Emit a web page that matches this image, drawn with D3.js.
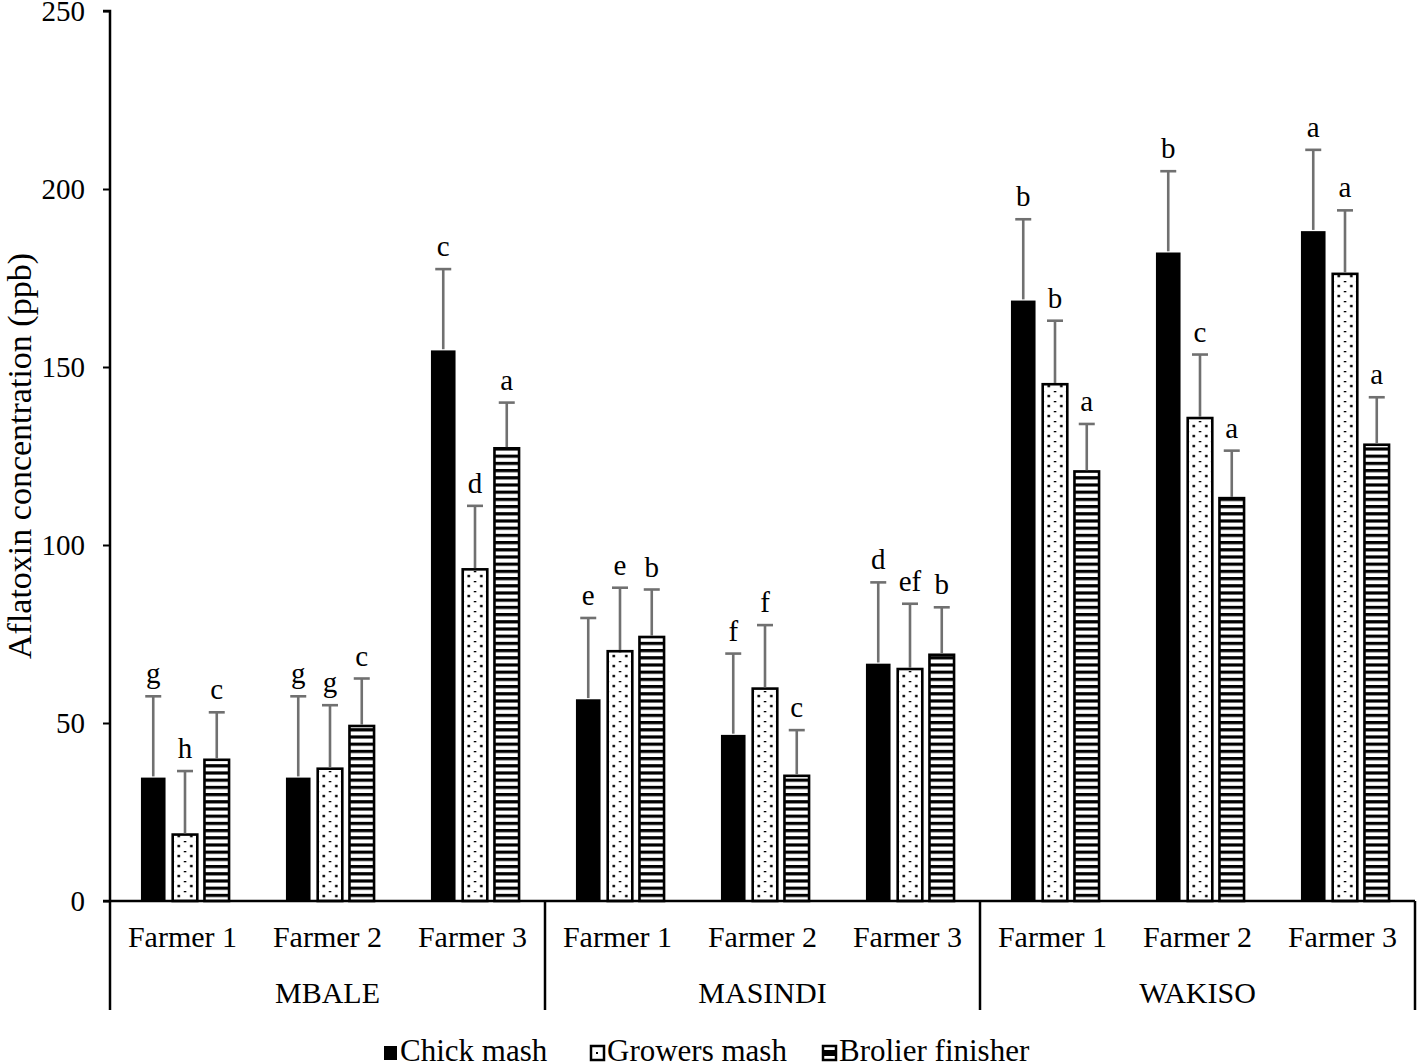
<!DOCTYPE html>
<html><head><meta charset="utf-8">
<script src="https://cdn.jsdelivr.net/npm/d3@7"></script>
<style>body{margin:0;background:#fff}svg{display:block}text{font-family:"Liberation Serif","Times New Roman",serif;fill:#000}</style>
</head><body><svg id="c" width="1419" height="1064"></svg>
<script>
const regions = ["MBALE","MASINDI","WAKISO"];
const farmers = ["Farmer 1","Farmer 2","Farmer 3"];
const series = ["Chick mash","Growers mash","Brolier finisher"];
const chickMash = [35,35,155,57,47,67,169,182.5,188.5];
const chickErr  = [57.5,57.5,177.5,79.5,69.5,89.5,191.5,205,211];
const chickLbl  = ["g","g","c","e","f","d","b","b","a"];
const growersMash = [19,37.5,93.5,70.5,60,65.5,145.5,136,176.5];
const growersErr  = [36.5,55,111,88,77.5,83.5,163,153.5,194];
const growersLbl  = ["h","g","d","e","f","ef","b","c","a"];
const broiler = [40,49.5,127.5,74.5,35.5,69.5,121,113.5,128.5];
const broilerErr = [53,62.5,140,87.5,48,82.5,134,126.5,141.5];
const broilerLbl = ["c","c","a","b","c","b","a","a","a"];
const yTicks = [0,50,100,150,200,250];

const svg = d3.select("#c");
const x0 = 110, x1 = 1415, yTop = 11, yBot = 901, shift = 2.5;
const cats = d3.range(9);
const xBand = d3.scaleBand().domain(cats).range([x0, x1]);
const xInner = d3.scaleBand().domain(d3.range(3)).range([0, xBand.bandwidth()]).paddingInner(0.15).paddingOuter(0.858);
const y = d3.scaleLinear().domain([0,250]).range([yBot, yTop]);

const defs = svg.append("defs");
const ps = defs.append("pattern").attr("id","stripes").attr("patternUnits","userSpaceOnUse").attr("width",8).attr("height",7.2).attr("y",yBot);
ps.append("rect").attr("width",8).attr("height",7.2).attr("fill","#fff");
ps.append("rect").attr("y",0).attr("width",8).attr("height",3.2).attr("fill","#000");

const data = [
  {vals: chickMash, err: chickErr, lbl: chickLbl},
  {vals: growersMash, err: growersErr, lbl: growersLbl},
  {vals: broiler, err: broilerErr, lbl: broilerLbl}
];

// bars
data.forEach((s, si) => {
  const g = svg.append("g");
  cats.forEach(ci => {
    const bx = xBand(ci) + xInner(si) + shift, bw = xInner.bandwidth();
    const v = s.vals[ci];
    let fill = "#000";
    if (si === 1) {
      const pid = "dots" + ci;
      const p = defs.append("pattern").attr("id", pid).attr("patternUnits","userSpaceOnUse")
        .attr("x", bx + 1).attr("y", yBot).attr("width", (bw-2)/2).attr("height", 10);
      p.append("rect").attr("width",(bw-2)/2).attr("height",10).attr("fill","#fff");
      p.append("rect").attr("x",-1.2).attr("y",-1.2).attr("width",2.5).attr("height",2.5).attr("fill","#000");
      p.append("rect").attr("x",(bw-2)/2-1.2).attr("y",-1.2).attr("width",2.5).attr("height",2.5).attr("fill","#000");
      p.append("rect").attr("x",(bw-2)/4-1.2).attr("y",3.8).attr("width",2.5).attr("height",2.5).attr("fill","#000");
      fill = `url(#${pid})`;
    } else if (si === 2) fill = "url(#stripes)";
    g.append("rect").attr("x", bx+1.2).attr("y", y(v)+1.2).attr("width", bw-2.4).attr("height", yBot - y(v) - 1.2)
      .attr("fill", fill).attr("stroke", "#000").attr("stroke-width", si===0?0:2.6);
    const cx = bx + bw/2;
    g.append("line").attr("x1",cx).attr("x2",cx).attr("y1",y(v)).attr("y2",y(s.err[ci])).attr("stroke","#707070").attr("stroke-width",2.6);
    g.append("line").attr("x1",cx-8).attr("x2",cx+8).attr("y1",y(s.err[ci])).attr("y2",y(s.err[ci])).attr("stroke","#707070").attr("stroke-width",2.6);
    g.append("text").attr("x",cx).attr("y",y(s.err[ci])-13).attr("text-anchor","middle").attr("font-size",29).text(s.lbl[ci]);
  });
});

// y axis
const yAxis = d3.axisLeft(y).tickValues(yTicks).tickSize(7).tickPadding(18);
const ya = svg.append("g").attr("transform",`translate(${x0},0)`).call(yAxis);
ya.select(".domain").attr("stroke","#000").attr("stroke-width",2.5).attr("d",`M-7,${yTop}H0V${yBot}`);
ya.selectAll(".tick line").attr("stroke","#000").attr("stroke-width",2);
ya.selectAll(".tick text").attr("font-size",29).attr("font-family","Liberation Serif").attr("fill","#000").attr("dy","0.34em");

// x axis
svg.append("line").attr("x1",x0-7).attr("x2",x1).attr("y1",yBot).attr("y2",yBot).attr("stroke","#000").attr("stroke-width",2.5);
[0,3,6,9].forEach(i => {
  const xx = i===9 ? x1 : xBand(i);
  svg.append("line").attr("x1",xx).attr("x2",xx).attr("y1",yBot).attr("y2",1010).attr("stroke","#000").attr("stroke-width",2.5);
});
cats.forEach(ci => {
  svg.append("text").attr("x", xBand(ci)+xBand.bandwidth()/2).attr("y",947).attr("text-anchor","middle").attr("font-size",30).text(farmers[ci%3]);
});
regions.forEach((r,ri) => {
  svg.append("text").attr("x", (xBand(ri*3) + xBand(ri*3+2)+xBand.bandwidth())/2).attr("y",1003).attr("text-anchor","middle").attr("font-size",30).text(r);
});

// y label
svg.append("text").attr("transform","translate(31,456) rotate(-90)").attr("text-anchor","middle").attr("font-size",34).text("Aflatoxin concentration (ppb)");

// legend
const legX = [383, 590, 822];
series.forEach((s,i) => {
  const g = svg.append("g").attr("transform",`translate(${legX[i]},1045)`);
  g.append("rect").attr("x",1).attr("y",1).attr("width",13).attr("height",14).attr("fill", i===0?"#000":"#fff").attr("stroke","#000").attr("stroke-width", i===0?0:2.5);
  if(i===1) g.append("rect").attr("x",6).attr("y",7).attr("width",2).attr("height",2).attr("fill","#000");
  if(i===2) g.append("rect").attr("x",2).attr("y",5).attr("width",11).attr("height",6).attr("fill","#000");
  g.append("text").attr("x",17).attr("y",16).attr("font-size",31).text(s);
});
</script></body></html>
